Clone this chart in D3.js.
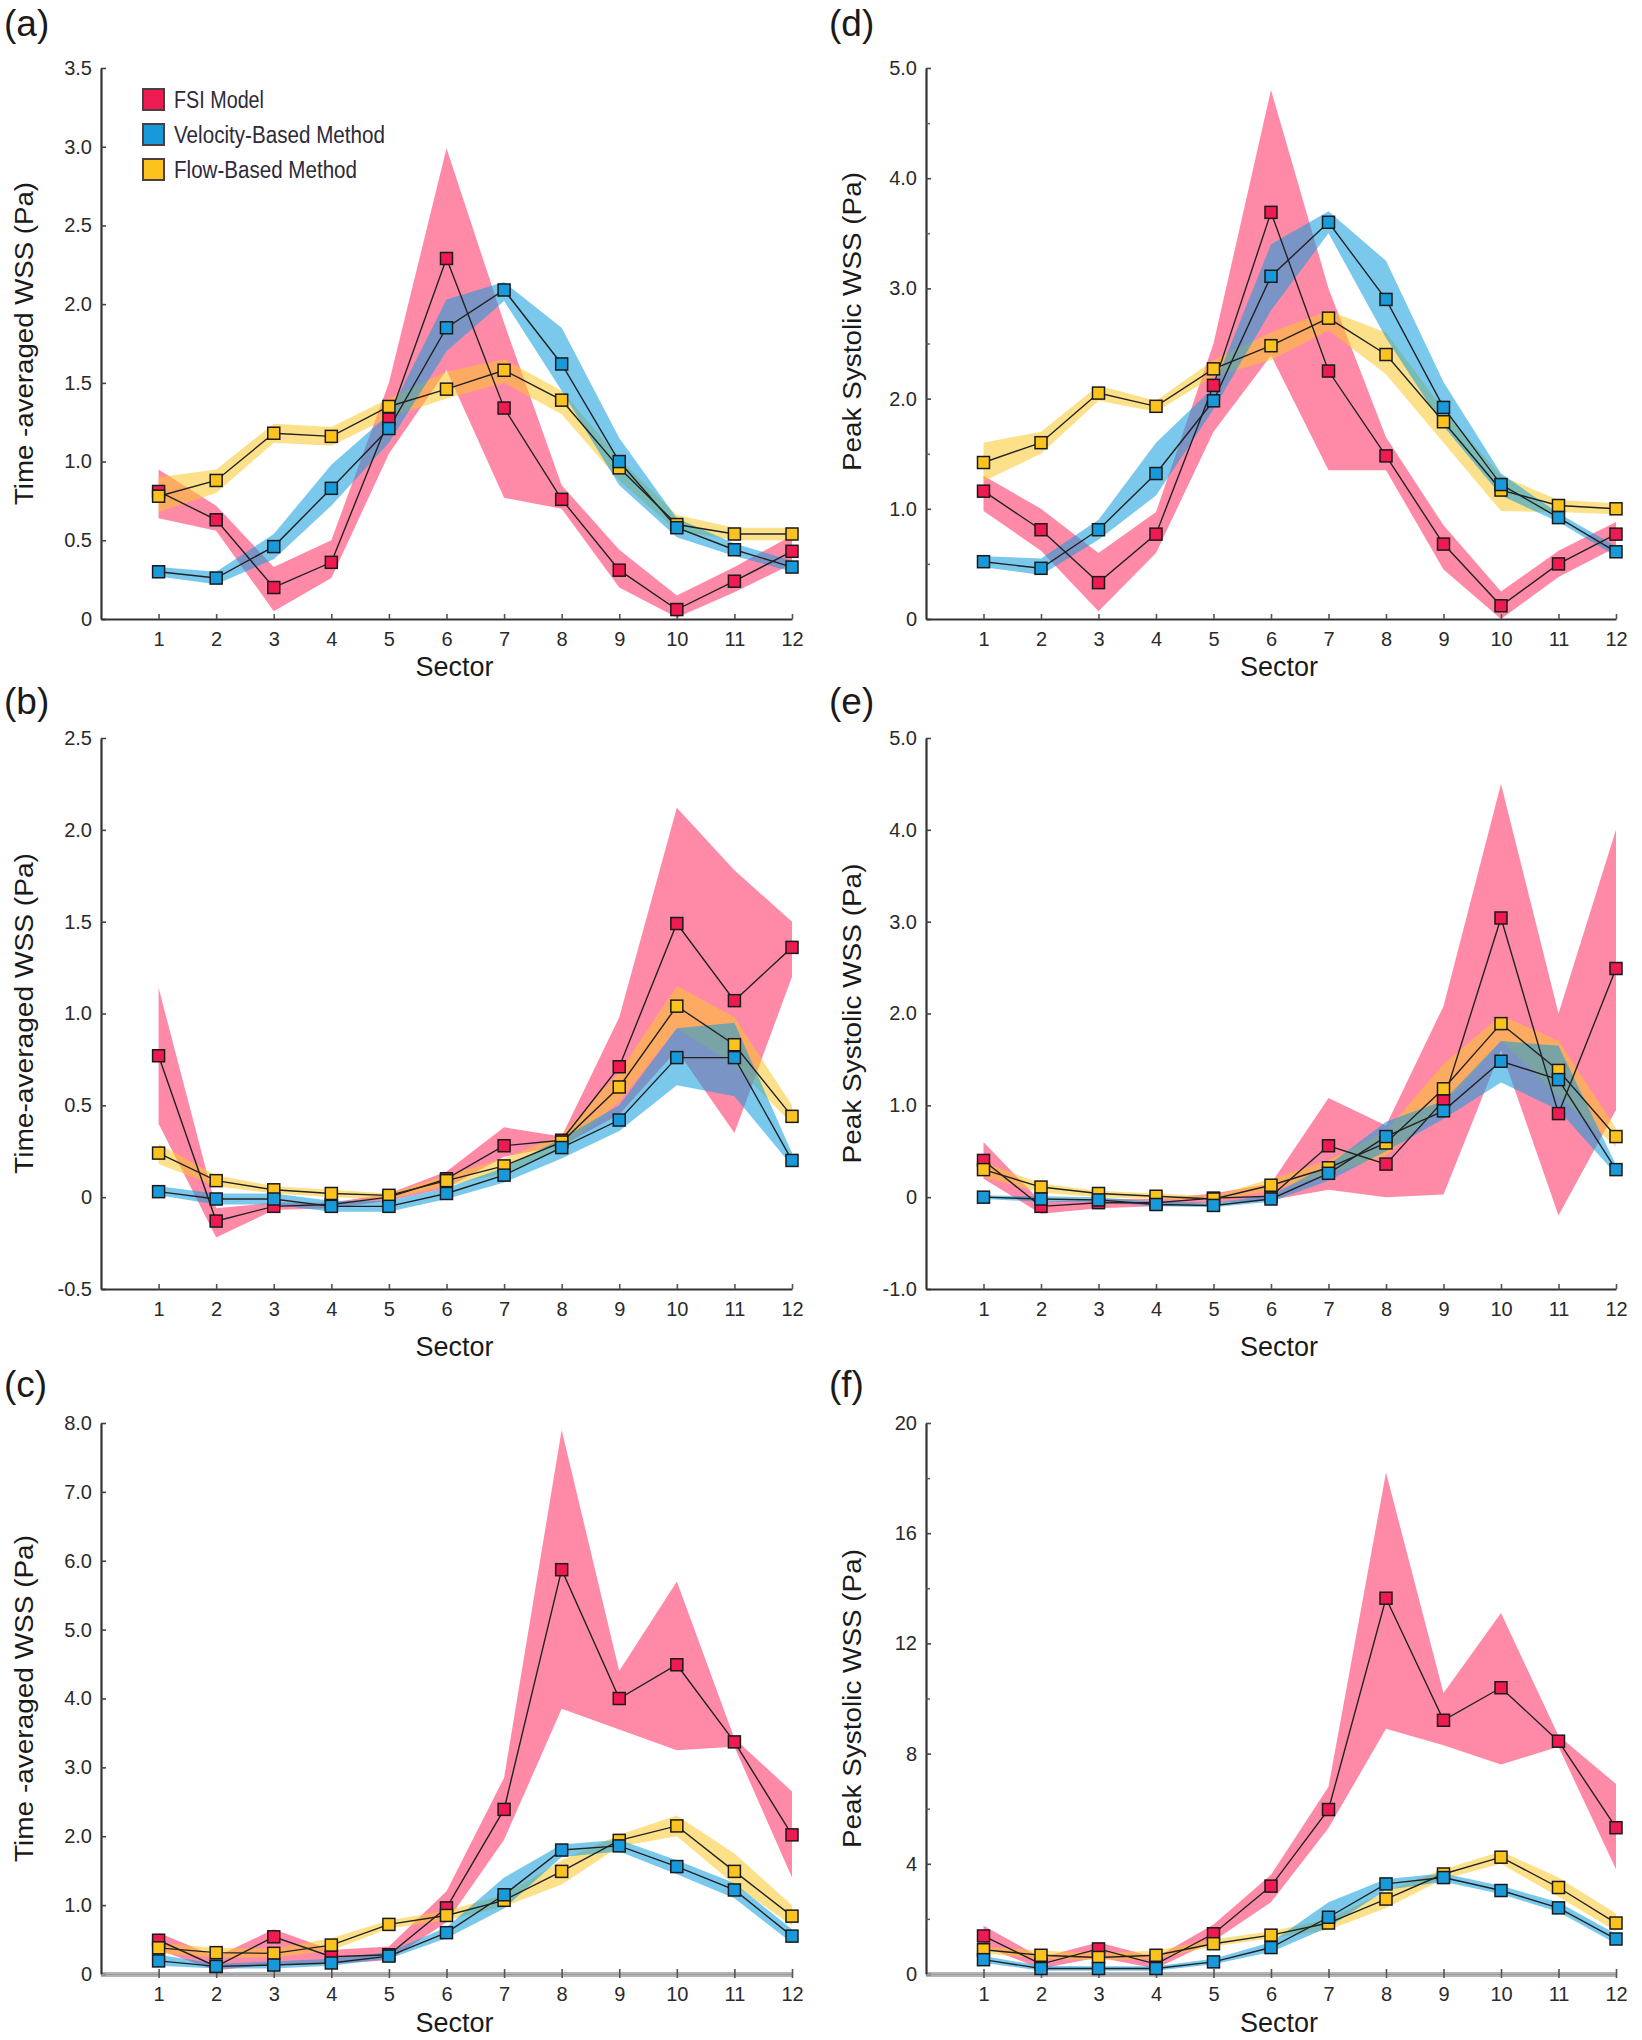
<!DOCTYPE html>
<html>
<head>
<meta charset="utf-8">
<script src="https://cdn.jsdelivr.net/npm/d3@7"></script>
<style>
  html, body { margin: 0; padding: 0; background: #fff; }
  svg { display: block; }
  text { font-family: "Liberation Sans", Arial, sans-serif; }
</style>
</head>
<body>
<script>
// ---------------- DATA ----------------
const sectors = [1,2,3,4,5,6,7,8,9,10,11,12];
const seriesNames = ["FSI Model", "Velocity-Based Method", "Flow-Based Method"];

// (a) Time-averaged WSS
const a_fsi      = [0.81,0.63,0.20,0.36,1.27,2.29,1.34,0.76,0.31,0.06,0.24,0.43];
const a_fsi_lo   = [0.64,0.56,0.05,0.26,1.05,1.58,0.77,0.70,0.20,0.01,0.17,0.35];
const a_fsi_hi   = [0.95,0.72,0.33,0.50,1.50,2.99,1.88,0.85,0.44,0.15,0.33,0.53];
const a_vel      = [0.30,0.26,0.46,0.83,1.21,1.85,2.09,1.62,1.00,0.58,0.44,0.33];
const a_vel_lo   = [0.27,0.22,0.38,0.72,1.12,1.70,2.02,1.45,0.85,0.52,0.40,0.30];
const a_vel_hi   = [0.33,0.30,0.54,0.98,1.30,2.03,2.14,1.85,1.15,0.64,0.48,0.37];
const a_flow     = [0.78,0.88,1.18,1.16,1.35,1.46,1.58,1.39,0.96,0.60,0.54,0.54];
const a_flow_lo  = [0.68,0.80,1.12,1.10,1.28,1.40,1.50,1.30,0.88,0.56,0.50,0.50];
const a_flow_hi  = [0.90,0.95,1.24,1.22,1.40,1.57,1.65,1.45,1.02,0.66,0.58,0.58];

// (b) Time-averaged WSS
const b_fsi      = [0.77,-0.13,-0.05,-0.04,0.00,0.10,0.28,0.31,0.71,1.49,1.07,1.36];
const b_fsi_lo   = [0.40,-0.22,-0.07,-0.06,-0.02,0.05,0.22,0.28,0.45,0.80,0.35,1.20];
const b_fsi_hi   = [1.14,-0.06,-0.03,-0.03,0.02,0.14,0.38,0.33,0.98,2.12,1.78,1.50];
const b_vel      = [0.03,-0.01,-0.01,-0.05,-0.05,0.02,0.12,0.27,0.42,0.76,0.76,0.20];
const b_vel_lo   = [0.01,-0.04,-0.04,-0.08,-0.08,-0.01,0.08,0.21,0.36,0.61,0.55,0.17];
const b_vel_hi   = [0.06,0.02,0.02,-0.02,-0.02,0.05,0.16,0.32,0.50,0.92,0.95,0.24];
const b_flow     = [0.24,0.09,0.04,0.02,0.01,0.09,0.17,0.30,0.60,1.04,0.83,0.44];
const b_flow_lo  = [0.18,0.06,0.02,0.00,-0.01,0.06,0.13,0.26,0.52,0.92,0.72,0.40];
const b_flow_hi  = [0.29,0.12,0.06,0.04,0.02,0.12,0.21,0.34,0.68,1.15,0.98,0.50];

// (c) Time-averaged WSS
const c_fsi      = [0.49,0.11,0.54,0.25,0.28,0.96,2.39,5.87,4.00,4.49,3.37,2.02];
const c_fsi_lo   = [0.35,0.05,0.15,0.15,0.20,0.75,1.95,3.85,3.55,3.25,3.30,1.40];
const c_fsi_hi   = [0.60,0.25,0.65,0.35,0.40,1.20,2.85,7.90,4.40,5.70,3.42,2.65];
const c_vel      = [0.19,0.11,0.13,0.16,0.26,0.60,1.15,1.80,1.86,1.56,1.22,0.55];
const c_vel_lo   = [0.12,0.08,0.08,0.12,0.22,0.52,0.95,1.70,1.78,1.45,1.10,0.45];
const c_vel_hi   = [0.28,0.15,0.18,0.22,0.32,0.68,1.40,1.88,1.95,1.65,1.32,0.65];
const c_flow     = [0.38,0.31,0.30,0.42,0.72,0.85,1.07,1.49,1.94,2.15,1.49,0.84];
const c_flow_lo  = [0.30,0.24,0.24,0.34,0.66,0.78,0.98,1.30,1.85,2.00,1.30,0.70];
const c_flow_hi  = [0.45,0.38,0.37,0.52,0.78,0.92,1.15,1.65,2.02,2.30,1.75,1.00];

// (d) Peak systolic WSS
const d_fsi      = [1.16,0.81,0.33,0.77,2.12,3.69,2.25,1.48,0.68,0.12,0.50,0.77];
const d_fsi_lo   = [0.98,0.62,0.07,0.60,1.70,2.39,1.35,1.35,0.45,0.00,0.38,0.65];
const d_fsi_hi   = [1.30,1.00,0.60,0.97,2.50,4.80,3.00,1.65,0.85,0.25,0.62,0.88];
const d_vel      = [0.52,0.46,0.81,1.32,1.98,3.11,3.60,2.90,1.92,1.22,0.92,0.61];
const d_vel_lo   = [0.47,0.40,0.72,1.12,1.90,2.80,3.50,2.55,1.75,1.12,0.88,0.57];
const d_vel_hi   = [0.57,0.55,0.90,1.60,2.10,3.40,3.70,3.25,2.15,1.32,0.96,0.66];
const d_flow     = [1.42,1.60,2.05,1.93,2.27,2.48,2.73,2.40,1.79,1.17,1.03,1.00];
const d_flow_lo  = [1.25,1.50,1.98,1.88,2.20,2.35,2.62,2.22,1.60,0.98,0.97,0.95];
const d_flow_hi  = [1.60,1.70,2.12,1.98,2.35,2.60,2.80,2.60,1.90,1.30,1.08,1.05];

// (e) Peak systolic WSS
const e_fsi      = [0.40,-0.10,-0.06,-0.06,-0.01,0.01,0.56,0.36,1.05,3.04,0.91,2.49];
const e_fsi_lo   = [0.20,-0.18,-0.12,-0.10,-0.06,-0.03,0.08,0.00,0.03,1.60,-0.20,0.95];
const e_fsi_hi   = [0.60,-0.05,-0.02,-0.02,0.04,0.15,1.08,0.78,2.08,4.50,2.00,4.00];
const e_vel      = [0.00,-0.02,-0.03,-0.08,-0.09,-0.02,0.26,0.66,0.94,1.48,1.28,0.30];
const e_vel_lo   = [-0.02,-0.05,-0.05,-0.10,-0.11,-0.05,0.18,0.50,0.85,1.25,0.95,0.25];
const e_vel_hi   = [0.02,0.01,0.00,-0.05,-0.06,0.02,0.35,0.82,1.05,1.70,1.65,0.35];
const e_flow     = [0.30,0.11,0.04,0.01,-0.02,0.13,0.32,0.59,1.18,1.89,1.38,0.66];
const e_flow_lo  = [0.22,0.05,0.00,-0.02,-0.04,0.07,0.25,0.45,1.00,1.70,1.10,0.55];
const e_flow_hi  = [0.38,0.15,0.07,0.04,0.01,0.20,0.40,0.72,1.45,1.98,1.70,0.75];

// (f) Peak systolic WSS
const f_fsi      = [1.38,0.36,0.91,0.36,1.46,3.19,5.97,13.64,9.21,10.39,8.45,5.31];
const f_fsi_lo   = [1.00,0.20,0.60,0.20,1.20,2.60,5.30,8.90,8.30,7.60,8.25,3.80];
const f_fsi_hi   = [1.75,0.60,1.15,0.60,1.80,3.60,6.80,18.20,10.20,13.10,8.65,6.90];
const f_vel      = [0.52,0.20,0.20,0.20,0.44,0.96,2.06,3.27,3.50,3.03,2.40,1.27];
const f_vel_lo   = [0.40,0.12,0.12,0.12,0.35,0.80,1.70,3.05,3.35,2.90,2.25,1.10];
const f_vel_hi   = [0.65,0.30,0.28,0.28,0.55,1.15,2.60,3.45,3.65,3.20,2.60,1.45];
const f_flow     = [0.88,0.68,0.60,0.68,1.10,1.41,1.85,2.72,3.63,4.24,3.14,1.85];
const f_flow_lo  = [0.75,0.55,0.50,0.55,1.00,1.30,1.60,2.40,3.45,4.00,2.80,1.55];
const f_flow_hi  = [1.00,0.85,0.75,0.85,1.25,1.55,2.00,3.00,3.80,4.45,3.50,2.20];

// tick labels
const ticks_a = [0,0.5,1.0,1.5,2.0,2.5,3.0,3.5];
const ticks_b = [-0.5,0,0.5,1.0,1.5,2.0,2.5];
const ticks_c = [0,1,2,3,4,5,6,7,8];
const ticks_d = [0,1,2,3,4,5];
const minor_d = [0.5,1.5,2.5,3.5,4.5];
const ticks_e = [-1,0,1,2,3,4,5];
const ticks_f = [0,4,8,12,16,20];
const minor_f = [2,6,10,14,18];

// ---------------- STYLE / LAYOUT ----------------
const W = 1642, H = 2040;
const markerColors = ["#ee1a52", "#1899d9", "#fcc21d"];
const bandColors   = ["#ff2a60", "#0d9ddc", "#fbc62a"];
const colX = [[101, 792], [926, 1616]];
const rowY = [[68, 619], [738, 1289], [1423, 1974]];
const sectorTitleOff = [57, 67, 58];
const labelBase = [36, 714, 1397];

const panels = [
  {lab:"(a)", col:0, row:0, dom:[0,3.5], ticks:ticks_a, minor:[], fmt:".1f", title:"Time -averaged WSS (Pa)", tl:323, base:false, legend:true,
   s:[[a_fsi,a_fsi_lo,a_fsi_hi],[a_vel,a_vel_lo,a_vel_hi],[a_flow,a_flow_lo,a_flow_hi]]},
  {lab:"(b)", col:0, row:1, dom:[-0.5,2.5], ticks:ticks_b, minor:[], fmt:".1f", title:"Time-averaged WSS (Pa)", tl:321, base:false,
   s:[[b_fsi,b_fsi_lo,b_fsi_hi],[b_vel,b_vel_lo,b_vel_hi],[b_flow,b_flow_lo,b_flow_hi]]},
  {lab:"(c)", col:0, row:2, dom:[0,8], ticks:ticks_c, minor:[], fmt:".1f", title:"Time -averaged WSS (Pa)", tl:327, base:true,
   s:[[c_fsi,c_fsi_lo,c_fsi_hi],[c_vel,c_vel_lo,c_vel_hi],[c_flow,c_flow_lo,c_flow_hi]]},
  {lab:"(d)", col:1, row:0, dom:[0,5], ticks:ticks_d, minor:minor_d, fmt:".1f", title:"Peak Systolic WSS (Pa)", tl:299, base:false, tshift:-22,
   s:[[d_fsi,d_fsi_lo,d_fsi_hi],[d_vel,d_vel_lo,d_vel_hi],[d_flow,d_flow_lo,d_flow_hi]]},
  {lab:"(e)", col:1, row:1, dom:[-1,5], ticks:ticks_e, minor:[], fmt:".1f", title:"Peak Systolic WSS (Pa)", tl:300, base:false,
   s:[[e_fsi,e_fsi_lo,e_fsi_hi],[e_vel,e_vel_lo,e_vel_hi],[e_flow,e_flow_lo,e_flow_hi]]},
  {lab:"(f)", col:1, row:2, dom:[0,20], ticks:ticks_f, minor:minor_f, fmt:"d", title:"Peak Systolic WSS (Pa)", tl:299, base:true,
   s:[[f_fsi,f_fsi_lo,f_fsi_hi],[f_vel,f_vel_lo,f_vel_hi],[f_flow,f_flow_lo,f_flow_hi]]}
];

const svg = d3.select("body").append("svg").attr("width", W).attr("height", H);
svg.append("rect").attr("width", W).attr("height", H).attr("fill", "#fff");

// draw order: FSI, Flow, Velocity
const order = [0, 2, 1];

panels.forEach(p => {
  const [x0, x1] = colX[p.col];
  const [yT, yB] = rowY[p.row];
  const x = d3.scaleLinear().domain([0, 12]).range([x0, x1]);
  const y = d3.scaleLinear().domain(p.dom).range([yB, yT]);
  const g = svg.append("g");

  // panel label
  g.append("text").attr("x", p.col === 0 ? 4 : 829).attr("y", labelBase[p.row])
    .attr("font-size", 37).attr("fill", "#1a1a1a").text(p.lab);

  // gray baseline for (c),(f)
  if (p.base) {
    g.append("rect").attr("x", x0).attr("y", y(0) - 2).attr("width", x1 - x0).attr("height", 5)
      .attr("fill", "#b4b4b4");
  }

  // bands
  const area = d3.area().x((d, i) => x(sectors[i])).y0(d => y(d[0])).y1(d => y(d[1]));
  order.forEach(k => {
    const [m, lo, hi] = p.s[k];
    const dat = lo.map((v, i) => [v, hi[i]]);
    g.append("path").attr("d", area(dat)).attr("fill", bandColors[k]).attr("fill-opacity", 0.55);
  });

  // axes
  const fmt = d3.format(p.fmt);
  const yAxis = d3.axisLeft(y).tickValues(p.ticks).tickSizeInner(-5).tickSizeOuter(0).tickPadding(9)
    .tickFormat(v => v === 0 ? "0" : fmt(v).replace("\u2212", "-"));
  const ya = g.append("g").attr("transform", `translate(${x0},0)`).call(yAxis);
  ya.select(".domain").attr("stroke", "#333").attr("stroke-width", 2.2);
  ya.selectAll(".tick line").attr("stroke", "#444").attr("stroke-width", 1.6);
  ya.selectAll(".tick text").attr("font-size", 20).attr("fill", "#2a2a2a").attr("font-family", "'Liberation Sans', Arial, sans-serif");
  if (p.minor.length) {
    const ym = d3.axisLeft(y).tickValues(p.minor).tickSizeInner(-4).tickSizeOuter(0).tickFormat("");
    const ymg = g.append("g").attr("transform", `translate(${x0},0)`).call(ym);
    ymg.select(".domain").remove();
    ymg.selectAll(".tick line").attr("stroke", "#555").attr("stroke-width", 1.4);
  }

  const xAxis = d3.axisBottom(x).tickValues(sectors).tickSizeInner(-5).tickSizeOuter(0).tickPadding(13)
    .tickFormat(d3.format("d"));
  const xa = g.append("g").attr("transform", `translate(0,${yB})`).call(xAxis);
  if (p.base) xa.select(".domain").attr("stroke", "#9a9a9a").attr("stroke-width", 1);
  else xa.select(".domain").attr("stroke", "#333").attr("stroke-width", 2.2);
  xa.selectAll(".tick line").attr("stroke", "#555").attr("stroke-width", 1.6).attr("y2", -5).attr("y1", p.base ? 4 : 0);
  xa.selectAll(".tick text").attr("font-size", 20).attr("fill", "#2a2a2a").attr("font-family", "'Liberation Sans', Arial, sans-serif");

  // axis titles
  g.append("text").attr("x", (x0 + x1) / 2 + 8).attr("y", yB + sectorTitleOff[p.row])
    .attr("text-anchor", "middle").attr("font-size", 27).attr("fill", "#1a1a1a").text("Sector");
  const tcy = (yT + yB) / 2 + (p.tshift || 0);
  const tcx = p.col === 0 ? 24 : 852;
  g.append("text").attr("transform", `translate(${tcx + 9},${tcy}) rotate(-90)`)
    .attr("text-anchor", "middle").attr("font-size", 26).attr("fill", "#1a1a1a")
    .attr("textLength", p.tl).attr("lengthAdjust", "spacingAndGlyphs").text(p.title);

  // lines
  const line = d3.line().x((d, i) => x(sectors[i])).y(d => y(d));
  order.forEach(k => {
    g.append("path").attr("d", line(p.s[k][0])).attr("fill", "none")
      .attr("stroke", "#222").attr("stroke-width", 1.4);
  });

  // markers
  const ms = 12;
  order.forEach(k => {
    g.selectAll(null).data(p.s[k][0]).enter().append("rect")
      .attr("x", (d, i) => x(sectors[i]) - ms / 2).attr("y", d => y(d) - ms / 2)
      .attr("width", ms).attr("height", ms)
      .attr("fill", markerColors[k]).attr("stroke", "#1a1a1a").attr("stroke-width", 1.5);
  });

  // legend
  if (p.legend) {
    const lg = g.append("g");
    const lw = [90, 211, 183];
    seriesNames.forEach((nm, i) => {
      const by = 108 + i * 35;
      lg.append("rect").attr("x", 143).attr("y", by - 19).attr("width", 21).attr("height", 21)
        .attr("fill", markerColors[i]).attr("stroke", "#4a4040").attr("stroke-width", 2);
      lg.append("text").attr("x", 174).attr("y", by).attr("font-size", 23)
        .attr("font-family", "'Liberation Sans Narrow', 'Liberation Sans', Arial, sans-serif")
        .attr("fill", "#2e2a3a").attr("textLength", lw[i]).attr("lengthAdjust", "spacingAndGlyphs").text(nm);
    });
  }
});
</script>
</body>
</html>
